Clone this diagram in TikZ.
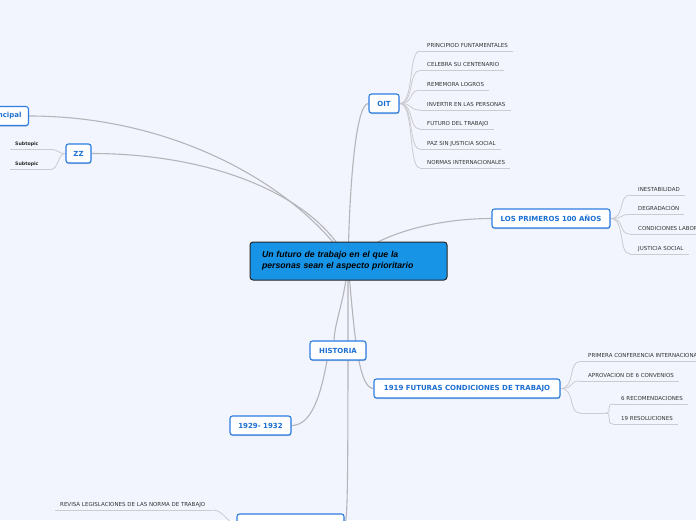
\documentclass[tikz,border=0pt]{standalone}
\usepackage{fontspec}
\setmainfont{DejaVu Sans}
\newfontfamily\cfont{Liberation Sans}
\usetikzlibrary{shadows,calc}
\definecolor{bgc}{HTML}{F2F5FD}
\definecolor{topb}{HTML}{2B7DE1}
\definecolor{topt}{HTML}{1C6FD2}
\definecolor{cfill}{HTML}{1894E7}
\definecolor{lnc}{HTML}{B5B5BA}
\definecolor{sln}{HTML}{CBCBD0}
\definecolor{stx}{HTML}{333333}
\pgfdeclarelayer{bgl}\pgfdeclarelayer{lines}
\pgfsetlayers{bgl,lines,main}
\begin{document}
\begin{tikzpicture}[x=1pt,y=-1pt,
 topic/.style={draw=topb, fill=white, rounded corners=2.5pt, line width=1.1pt, text=topt,
   font=\bfseries\fontsize{7}{8}\selectfont, minimum height=19pt, inner xsep=0pt, inner ysep=0pt,
   drop shadow={shadow xshift=0.4pt, shadow yshift=-1.2pt, fill=topb!40!black, opacity=0.25}},
 sub/.style={anchor=base west, inner sep=0pt, text=stx, font=\fontsize{5.5}{6.5}\selectfont},
 subb/.style={anchor=base west, inner sep=0pt, text=stx!80!black, font=\bfseries\fontsize{4.7}{5.5}\selectfont},
 conn/.style={draw=lnc, line width=1.1pt},
 sconn/.style={draw=sln, line width=0.8pt},
]
\begin{pgfonlayer}{bgl}
\fill[bgc] (0,0) rectangle (696,520);
\end{pgfonlayer}
\useasboundingbox (0,0) rectangle (696,520);

% central
\node[draw=black!85, fill=cfill, rounded corners=3pt, line width=1pt, minimum width=197pt,
  minimum height=38pt, text width=173pt, inner xsep=12pt, align=left,
  font=\cfont\bfseries\itshape\fontsize{8.7}{10.8}\selectfont] (ctr) at (348.5,261)
  {Un futuro de trabajo en el que la\\ personas sean el aspecto prioritario};
\coordinate (c) at (348,262);

% topics
\node[topic, minimum width=30pt] (oit) at (384,103.5) {OIT};
\node[topic, minimum width=118pt] (prim) at (551,218.5) {LOS PRIMEROS 100 AÑOS};
\node[topic, anchor=east, inner xsep=7pt] (tp) at (29,116) {Tema principal};
\node[topic, minimum width=25pt] (zz) at (78.5,153.5) {ZZ};
\node[topic, minimum width=56pt] (hist) at (338,350.5) {HISTORIA};
\node[topic, minimum width=61pt] (y29) at (260.5,425.5) {1929- 1932};
\node[topic, minimum width=186pt] (f19) at (467,388.5) {1919 FUTURAS CONDICIONES DE TRABAJO};
\node[topic, minimum width=107pt] (bot) at (290.5,523.5) {};

\begin{pgfonlayer}{lines}
\draw[conn] (c) .. controls (350,170) and (357,103.5) .. (oit.west);
\draw[conn] (c) .. controls (300,190) and (180,116) .. (tp.east);
\draw[conn] (c) .. controls (320,200) and (220,153.5) .. (zz.east);
\draw[conn] (c) .. controls (380,232) and (440,218.5) .. (prim.west);
\draw[conn] (c) .. controls (345,300) and (335,320) .. ([xshift=-4pt]hist.north);
\draw[conn] (c) .. controls (354,330) and (358,388.5) .. (f19.west);
\draw[conn] (c) .. controls (348,470) and (348,523.5) .. (bot.east);
\draw[conn] ([xshift=-11pt]hist.south) .. controls (320,400) and (310,425.5) .. (y29.east);
\end{pgfonlayer}

% OIT children
\foreach \n/\y/\t in {o1/47/PRINCIPIOD FUNTAMENTALES, o2/66.5/CELEBRA SU CENTENARIO,
  o3/86/REMEMORA LOGROS, o4/106/INVERTIR EN LAS PERSONAS, o5/125/FUTURO DEL TRABAJO,
  o6/145/PAZ SIN JUSTICIA SOCIAL, o7/164/NORMAS INTERNACIONALES}{
  \node[sub] (\n) at (427,\y) {\t};
  \begin{pgfonlayer}{lines}
  \draw[sconn] ($(\n.base west)+(-7,4)$) -- ($(\n.base east)+(5,4)$);
  \draw[sconn] (oit.east) .. controls +(15,0) and +(-12,0) .. ($(\n.base west)+(-7,4)$);
  \end{pgfonlayer}
}
% primeros children
\foreach \n/\y/\t in {p1/191/INESTABILIDAD, p2/210.5/DEGRADACIÓN,
  p3/230/CONDICIONES LABORALES, p4/250/JUSTICIA SOCIAL}{
  \node[sub] (\n) at (638,\y) {\t};
  \begin{pgfonlayer}{lines}
  \draw[sconn] ($(\n.base west)+(-8,4)$) -- ($(\n.base east)+(5,4)$);
  \draw[sconn] (prim.east) .. controls +(15,0) and +(-12,0) .. ($(\n.base west)+(-8,4)$);
  \end{pgfonlayer}
}
% 1919 children
\foreach \n/\y/\t in {q1/357.5/PRIMERA CONFERENCIA INTERNACIONAL, q2/377/APROVACION DE 6 CONVENIOS}{
  \node[sub] (\n) at (588,\y) {\t};
  \begin{pgfonlayer}{lines}
  \draw[sconn] ($(\n.base west)+(-8,4)$) -- ($(\n.base east)+(5,4)$);
  \draw[sconn] (f19.east) .. controls +(15,0) and +(-12,0) .. ($(\n.base west)+(-8,4)$);
  \end{pgfonlayer}
}
\node[anchor=south west, inner sep=0pt, minimum width=25pt, minimum height=4pt] (emp) at (580,413) {};
\begin{pgfonlayer}{lines}
\draw[sconn] (emp.south west) -- (emp.south east);
\draw[sconn] (f19.east) .. controls +(15,0) and +(-12,0) .. (emp.south west);
\end{pgfonlayer}
\foreach \n/\y/\t in {r1/400/6 RECOMENDACIONES, r2/420/19 RESOLUCIONES}{
  \node[sub] (\n) at (621,\y) {\t};
  \begin{pgfonlayer}{lines}
  \draw[sconn] ($(\n.base west)+(-8,4)$) -- ($(\n.base east)+(5,4)$);
  \draw[sconn] (emp.south east) .. controls +(8,0) and +(-8,0) .. ($(\n.base west)+(-8,4)$);
  \end{pgfonlayer}
}
% ZZ children
\foreach \n/\y in {s1/145.5, s2/165.5}{
  \node[subb] (\n) at (15,\y) {Subtopic};
  \begin{pgfonlayer}{lines}
  \draw[sconn] ($(\n.base west)+(-5,4)$) -- ($(\n.base east)+(12,4)$);
  \draw[sconn] (zz.west) .. controls +(-8,0) and +(8,0) .. ($(\n.base east)+(12,4)$);
  \end{pgfonlayer}
}
% bottom child
\node[sub] (b1) at (60,506) {REVISA LEGISLACIONES DE LAS NORMA DE TRABAJO};
\begin{pgfonlayer}{lines}
\draw[sconn] ($(b1.base west)+(-5,4)$) -- ($(b1.base east)+(7,4)$);
\draw[sconn] ($(b1.base east)+(7,4)$) .. controls +(12,0) and +(-10,0) .. (bot.west);
\end{pgfonlayer}
\end{tikzpicture}
\end{document}
